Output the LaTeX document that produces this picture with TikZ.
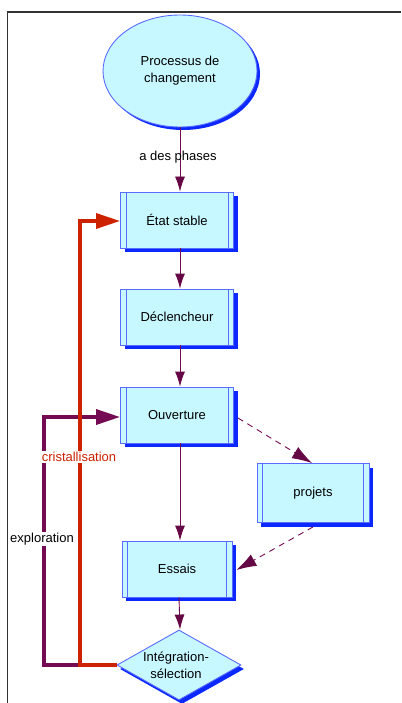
\documentclass[tikz,border=0pt]{standalone}
\usepackage{fontspec}
\setmainfont{Liberation Sans}
\usetikzlibrary{shapes.geometric,shadows,arrows.meta}
\definecolor{boxfill}{HTML}{C8F8FF}
\definecolor{boxline}{HTML}{5A6CFF}
\definecolor{shblue}{HTML}{0A28FF}
\definecolor{plum}{HTML}{740A52}
\definecolor{plumtip}{HTML}{660845}
\definecolor{crimson}{HTML}{CC2200}
\definecolor{framegray}{HTML}{333333}
\tikzset{
  stepbox/.style={rectangle, draw=boxline, line width=0.9pt, fill=boxfill,
    minimum width=113pt, minimum height=56pt, inner sep=0pt,
    font=\fontsize{13}{15}\selectfont,
    drop shadow={shadow xshift=4pt, shadow yshift=-4pt, fill=shblue, opacity=1}},
  startnode/.style={ellipse, draw=boxline, line width=0.9pt, fill=boxfill,
    minimum width=154pt, minimum height=112pt, inner sep=0pt, align=center,
    font=\fontsize{13}{17}\selectfont,
    drop shadow={shadow xshift=3pt, shadow yshift=-3pt, fill=shblue, opacity=1}},
  decision/.style={diamond, draw=boxline, line width=0.9pt, fill=boxfill,
    minimum width=124pt, minimum height=70pt, inner sep=0pt,
    drop shadow={shadow xshift=3pt, shadow yshift=-4pt, fill=shblue, opacity=1}},
  flow/.style={draw=plum, line width=0.9pt,
    -{Latex[length=15pt,width=10pt,fill=plumtip,color=plumtip]}},
  option/.style={draw=plum, line width=0.9pt, dash pattern=on 6pt off 5pt,
    -{Latex[length=20pt,width=13pt,fill=plumtip,color=plumtip]}},
  loopred/.style={draw=crimson, line width=3.4pt,
    -{Triangle[length=24pt,width=15pt]}},
  loopplum/.style={draw=plum, line width=3.4pt,
    -{Triangle[length=24pt,width=15pt]}},
  tag/.style={font=\fontsize{13}{15}\selectfont, inner sep=1pt}
}
\begin{document}
\begin{tikzpicture}[x=1pt,y=-1pt]
\useasboundingbox (0,0) rectangle (401,703);
\fill[white] (0,0) rectangle (401,703);
% frame
\draw[framegray, line width=1.4pt] (7.5,703) -- (7.5,12) -- (401,12);

% nodes
\node[startnode] (proc) at (180,71) {Processus de\\changement};
\node[stepbox] (etat) at (177,220) {État stable};
\node[stepbox] (decl) at (177,317) {Déclencheur};
\node[stepbox] (ouv) at (177,415) {Ouverture};
\node[stepbox, minimum width=112pt, minimum height=59pt] (proj) at (313,493) {projets};
\node[stepbox, minimum width=110pt] (ess) at (177,569) {Essais};
\node[decision] (integ) at (179,665) {};
\node[align=center, font=\fontsize{13}{17}\selectfont] (integtxt) at (176,665) {Intégration-\\sélection};

% inner side bars of the process boxes
\foreach \n in {etat,decl,ouv,proj,ess}{
  \draw[boxline, line width=0.8pt] ([xshift=6pt]\n.north west) -- ([xshift=6pt]\n.south west);
  \draw[boxline, line width=0.8pt] ([xshift=-6pt]\n.north east) -- ([xshift=-6pt]\n.south east);
}

% main flow
\draw[flow] ([xshift=0pt]proc.south) -- ([xshift=3pt]etat.north);
\node[tag] (phases) at (178,157) {a des phases};
\draw[flow] ([xshift=3pt]etat.south) -- ([xshift=3pt]decl.north);
\draw[flow] ([xshift=3pt]decl.south) -- ([xshift=3pt]ouv.north);
\draw[flow] ([xshift=3pt]ouv.south) -- ([xshift=3pt]ess.north);
\draw[flow] ([xshift=2pt]ess.south) -- ([xshift=1pt]integ.north);

% projects branch
\draw[option] ([xshift=4pt,yshift=-3pt]ouv.east) -- ([xshift=-1pt]proj.north);
\draw[option] ([yshift=-4pt]proj.south) -- ([xshift=4pt,yshift=-1pt]ess.east);

% feedback loops
\coordinate (jn) at (80,665);
\draw[loopplum] (jn) -- (44,665) -- (44,417) -- ([yshift=-2pt]ouv.west);
\draw[loopred] (integ.west) -- (jn) -- (80,221) -- ([yshift=-1pt]etat.west);
\node[tag, fill=white, text=crimson] (crist) at (79,457) {cristallisation};
\node[tag, fill=white] (explo) at (42,539) {exploration};
\end{tikzpicture}
\end{document}
